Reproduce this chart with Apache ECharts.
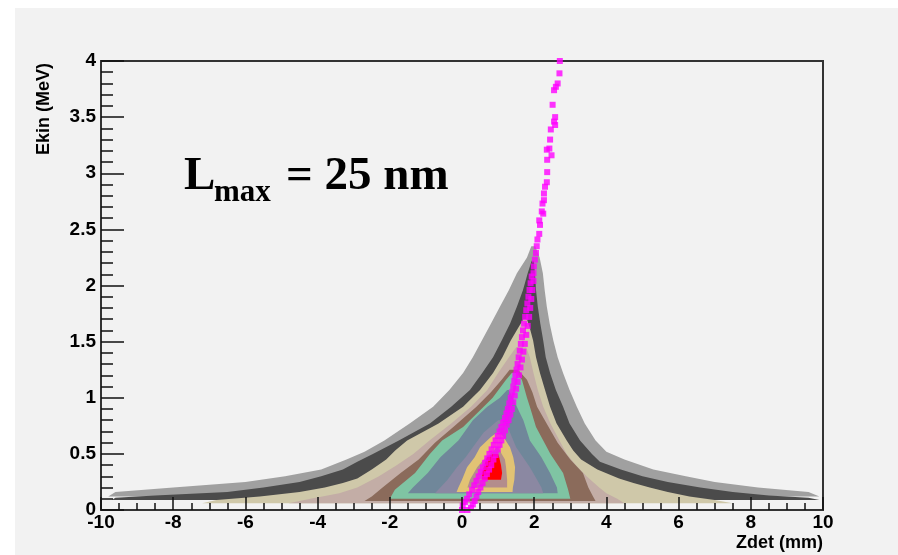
<!DOCTYPE html>
<html>
<head>
<meta charset="utf-8">
<script src="https://cdn.jsdelivr.net/npm/echarts@6/dist/echarts.min.js"></script>
<style>
html,body{margin:0;padding:0;background:#ffffff;}
#chart{width:898px;height:555px;}
</style>
</head>
<body>
<div id="chart"></div>
<script>
// ---- axis ticks ----
const xTicks = [-10, -8, -6, -4, -2, 0, 2, 4, 6, 8, 10];
const yTicks = [0, 0.5, 1, 1.5, 2, 2.5, 3, 3.5, 4];

// ---- contour levels: rows of [Ekin, Zdet left edge, Zdet right edge], outermost first ----
const level1 = [[0.12,-9.8,9.9],[0.16,-9.6,9.6],[0.2,-8.0,8.2],[0.25,-6.0,7.0],[0.3,-4.9,6.2],[0.36,-3.9,5.3],[0.45,-3.2,4.5],[0.52,-2.7,4.0],[0.62,-2.15,3.7],[0.77,-1.45,3.4],[0.92,-0.8,3.18],[1.07,-0.35,2.98],[1.22,0.03,2.8],[1.36,0.3,2.65],[1.51,0.55,2.53],[1.66,0.8,2.43],[1.81,1.05,2.35],[1.96,1.3,2.29],[2.11,1.52,2.24],[2.25,1.8,2.15],[2.35,1.92,2.03]];
const level2 = [[0.09,-9.7,9.9],[0.11,-9.6,9.6],[0.13,-8.5,8.5],[0.16,-6.5,7.5],[0.2,-5.5,6.6],[0.25,-4.5,5.7],[0.3,-3.9,5.0],[0.36,-3.3,4.4],[0.43,-2.9,3.82],[0.5,-2.47,3.6],[0.62,-1.75,3.27],[0.77,-0.89,2.98],[0.92,-0.3,2.8],[1.07,0.22,2.6],[1.22,0.56,2.44],[1.36,0.86,2.32],[1.51,1.1,2.25],[1.66,1.33,2.17],[1.81,1.52,2.1],[1.96,1.69,2.05],[2.11,1.82,2.02],[2.22,1.93,1.99]];
const level3 = [[0.06,-7.2,7.5],[0.09,-6.8,7.0],[0.12,-5.6,6.3],[0.16,-4.5,5.7],[0.2,-3.8,5.2],[0.24,-3.3,4.75],[0.28,-2.9,4.35],[0.36,-2.5,3.75],[0.45,-2.1,3.3],[0.53,-1.85,3.08],[0.62,-1.52,2.9],[0.77,-0.65,2.62],[0.92,0.03,2.44],[1.07,0.5,2.3],[1.22,0.86,2.16],[1.36,1.12,2.05],[1.51,1.35,1.97],[1.62,1.55,1.88],[1.7,1.7,1.8]];
const level4 = [[0.06,-4.8,4.5],[0.1,-4.2,4.3],[0.15,-3.4,4.0],[0.2,-2.9,3.8],[0.3,-2.3,3.45],[0.4,-1.8,3.15],[0.5,-1.35,2.9],[0.62,-0.9,2.7],[0.77,-0.3,2.45],[0.92,0.25,2.25],[1.07,0.7,2.1],[1.22,1.0,1.98],[1.36,1.3,1.88],[1.45,1.5,1.78]];
const level5 = [[0.08,-2.7,3.7],[0.12,-2.5,3.63],[0.2,-2.2,3.5],[0.33,-1.7,3.35],[0.45,-1.2,3.0],[0.6,-0.75,2.65],[0.75,-0.2,2.38],[0.92,0.4,2.08],[1.05,0.8,1.95],[1.16,1.1,1.8],[1.25,1.32,1.55]];
const level6 = [[0.1,-2.0,3.0],[0.18,-1.86,2.94],[0.33,-1.3,2.8],[0.5,-0.89,2.45],[0.62,-0.55,2.25],[0.74,0.03,2.05],[0.92,0.6,1.88],[1.0,0.85,1.8],[1.16,1.22,1.66],[1.22,1.38,1.5]];
const level7 = [[0.15,-1.5,2.65],[0.2,-1.36,2.63],[0.33,-0.95,2.44],[0.47,-0.6,2.2],[0.62,-0.1,1.88],[0.8,0.3,1.7],[0.92,0.7,1.52],[1.0,1.05,1.4],[1.07,1.25,1.3]];
const level8 = [[0.15,-0.75,2.25],[0.2,-0.6,2.2],[0.27,-0.4,2.08],[0.38,-0.14,1.88],[0.47,0.1,1.69],[0.56,0.3,1.5],[0.69,0.6,1.33],[0.74,0.78,1.25],[0.8,1.0,1.1]];
const level9 = [[0.16,-0.15,1.4],[0.2,-0.1,1.41],[0.27,0.0,1.45],[0.38,0.14,1.47],[0.47,0.35,1.42],[0.56,0.5,1.33],[0.65,0.8,1.15],[0.69,0.97,1.05]];
const level10 = [[0.2,0.15,1.25],[0.27,0.22,1.25],[0.38,0.42,1.22],[0.45,0.6,1.19],[0.5,0.78,1.1],[0.56,0.97,1.0]];
const level11 = [[0.27,0.55,1.08],[0.33,0.55,1.11],[0.4,0.62,1.08],[0.47,0.69,1.03],[0.5,0.85,1.0]];

// ---- profile points (magenta): dense lower band (two edges) and sparse upper part ----
const profileLowX = [0.0,0.02,0.08,0.14,0.2,0.28,0.34,0.4,0.46,0.52,0.58,0.64,0.7,0.76,0.82,0.88,0.93,0.99,1.04,1.09,1.14,1.19,1.23,1.27,1.31,1.35,1.39,1.42,1.45,1.48,1.51,1.54,1.57,1.6,1.63,1.66,1.69,1.72,1.75,1.78,1.81,1.84,1.87,1.9,1.93];
const profileLowY = [0.0,0.04,0.07,0.1,0.14,0.18,0.22,0.26,0.3,0.34,0.38,0.42,0.46,0.5,0.54,0.58,0.62,0.66,0.7,0.74,0.78,0.82,0.86,0.9,0.95,1.0,1.05,1.1,1.15,1.2,1.25,1.3,1.36,1.42,1.48,1.54,1.6,1.66,1.72,1.78,1.84,1.9,1.96,2.02,2.08];
const profileEdgeX = [0.15,0.25,0.3,0.35,0.4,0.45,0.51,0.57,0.63,0.69,0.75,0.81,0.87,0.93,0.99,1.04,1.09,1.14,1.19,1.24,1.29,1.34,1.38,1.42,1.46,1.5,1.54,1.58,1.62,1.66,1.7,1.74,1.78,1.82,1.86,1.89,1.92,1.95,1.98];
const profileEdgeY = [0.0,0.02,0.05,0.08,0.12,0.16,0.2,0.24,0.28,0.32,0.36,0.4,0.45,0.49,0.54,0.58,0.62,0.66,0.71,0.76,0.8,0.85,0.9,0.96,1.02,1.08,1.14,1.2,1.27,1.34,1.41,1.48,1.56,1.64,1.72,1.8,1.88,1.96,2.04];
const profileHighX = [1.98,1.99,2.02,2.05,2.07,2.09,2.14,2.16,2.14,2.25,2.21,2.23,2.27,2.27,2.30,2.35,2.36,2.36,2.48,2.35,2.42,2.44,2.46,2.58,2.55,2.58,2.51,2.55,2.60,2.65,2.70,2.71];
const profileHighY = [2.11,2.17,2.23,2.29,2.35,2.41,2.46,2.54,2.58,2.64,2.66,2.73,2.76,2.82,2.88,2.92,3.01,3.12,3.16,3.21,3.22,3.30,3.39,3.43,3.46,3.50,3.61,3.74,3.77,3.80,3.89,4.0];

const levelColors = ['#a0a0a0','#4b4b4b','#cfc8a9','#c3ada6','#8b6b5b','#7fc4a3','#70879a','#8b88a2','#e2c374','#b38d8c','#ff0000'];
const levels = [level1,level2,level3,level4,level5,level6,level7,level8,level9,level10,level11];

const profile = [];
[[profileLowX,profileLowY],[profileEdgeX,profileEdgeY],[profileHighX,profileHighY]].forEach(function(p){
  for (let i=0;i<p[0].length;i++) profile.push([p[0][i], p[1][i]]);
});

const chart = echarts.init(document.getElementById('chart'), null, {renderer:'canvas'});
const labelFont = {fontFamily:'Liberation Sans, Arial, sans-serif', fontWeight:'bold', fontSize:19, color:'#000'};

chart.setOption({
  animation:false,
  backgroundColor:'#ffffff',
  graphic:[
    {type:'rect', z:-5, shape:{x:15,y:8,width:883,height:547}, style:{fill:'#f2f2f2'}},
    {type:'text', z:20, style:{text:'Ekin (MeV)', x:44, y:109, fill:'#000', font:'bold 18px "Liberation Sans", Arial, sans-serif', align:'center', verticalAlign:'middle'}, rotation:Math.PI/2, originX:44, originY:109},
    {type:'text', z:20, style:{text:'L', x:184, y:177, fill:'#000', font:'bold 47px "Liberation Serif", "Times New Roman", serif', align:'left', verticalAlign:'middle'}},
    {type:'text', z:20, style:{text:'max', x:214, y:193, fill:'#000', font:'bold 31px "Liberation Serif", "Times New Roman", serif', align:'left', verticalAlign:'middle'}},
    {type:'text', z:20, style:{text:'= 25 nm', x:286, y:177, fill:'#000', font:'bold 47px "Liberation Serif", "Times New Roman", serif', align:'left', verticalAlign:'middle'}}
  ],
  grid:{left:101, right:75, top:61, bottom:45, show:true, backgroundColor:'#f2f2f2', borderColor:'#333', borderWidth:2},
  xAxis:{
    type:'value', min:xTicks[0], max:xTicks[xTicks.length-1], interval:2, z:5,
    name:'Zdet (mm)', nameLocation:'end', nameGap:0,
    nameTextStyle:{fontFamily:'Liberation Sans, Arial, sans-serif', fontWeight:'bold', fontSize:18, color:'#000', align:'right', verticalAlign:'top', padding:[24,0,0,0]},
    axisLine:{show:true, onZero:false, lineStyle:{color:'#333', width:2}},
    axisTick:{show:true, inside:true, length:13, lineStyle:{color:'#111', width:1.5}},
    minorTick:{show:true, splitNumber:4, length:7, lineStyle:{color:'#111', width:1.5}},
    splitLine:{show:false},
    axisLabel:Object.assign({margin:3}, labelFont)
  },
  yAxis:{
    type:'value', min:yTicks[0], max:yTicks[yTicks.length-1], interval:0.5, z:5,
    axisLine:{show:true, onZero:false, lineStyle:{color:'#333', width:2}},
    axisTick:{show:true, inside:true, length:23, lineStyle:{color:'#111', width:1.5}},
    minorTick:{show:true, splitNumber:5, length:12, lineStyle:{color:'#111', width:1.5}},
    splitLine:{show:false},
    axisLabel:Object.assign({margin:5}, labelFont)
  },
  series:[
    {
      type:'custom', silent:true, z:2,
      data:levels.map((l,i)=>[i,0]),
      renderItem:function(params, api){
        const lv = levels[params.dataIndex];
        const pts = [];
        for (let k=0;k<lv.length;k++) pts.push(api.coord([lv[k][1], lv[k][0]]));
        for (let k=lv.length-1;k>=0;k--) pts.push(api.coord([lv[k][2], lv[k][0]]));
        return {type:'polygon', shape:{points:pts}, style:{fill:levelColors[params.dataIndex], stroke:null}};
      }
    },
    {
      type:'scatter', z:4, silent:true,
      symbol:'rect', symbolSize:6,
      itemStyle:{color:'#ff00ff'},
      data:profile
    }
  ]
});
</script>
</body>
</html>
